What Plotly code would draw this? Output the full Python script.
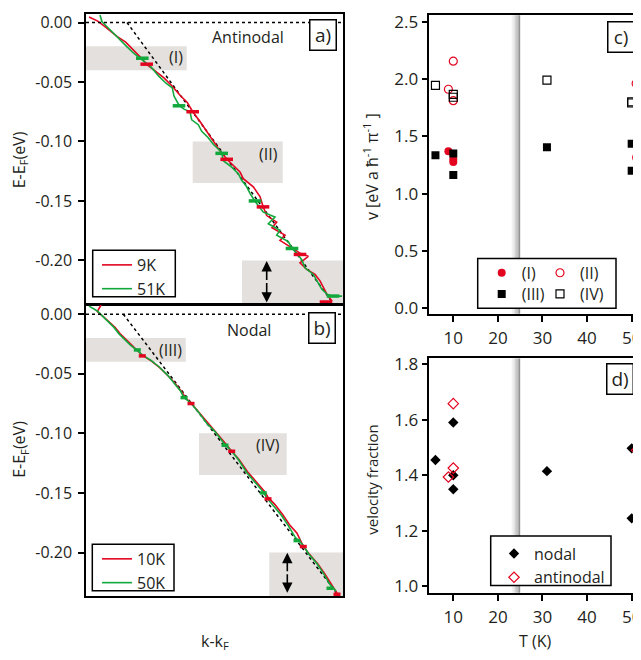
import plotly.graph_objects as go

# ---------------- data ----------------
# Panel a (antinodal): k-kF in 1e-3 1/A (arbitrary), E-EF in eV
a9_k = [-1, 7.3, 14, 20.7, 27.3, 35.7, 44, 51, 56.7, 65.7, 74, 82.3, 90.7, 97.3, 102.7, 110, 116.7,
        123.3, 130, 136.7, 143.3, 150, 153.3, 163.3, 170, 173, 176.7, 186.7, 182, 195, 190, 201.7,
        210, 218.3, 210, 216.7, 225, 230, 233.3, 236.7, 242]
a9_E = [0.0047, 0.0014, -0.0027, -0.0074, -0.0118, -0.0165, -0.0233, -0.0297, -0.0351, -0.0412,
        -0.0466, -0.0536, -0.0618, -0.0672, -0.0750, -0.0832, -0.0915, -0.0997, -0.1079, -0.1148,
        -0.1203, -0.1257, -0.1313, -0.1381, -0.1463, -0.1545, -0.1623, -0.1678, -0.1725, -0.1788,
        -0.1832, -0.1898, -0.1939, -0.1966, -0.2021, -0.2076, -0.2118, -0.2172, -0.2227, -0.2282,
        -0.2343]
a51_k = [10, 12, 16, 20.7, 29, 37.3, 44, 52.3, 60.7, 69, 75.7, 82.3, 84, 89, 94, 100, 101.7, 108.3,
         111.7, 118.3, 123.3, 131.7, 133.3, 141.7, 148.3, 151.7, 156.7, 160, 165, 173.3, 185, 178.3,
         190, 186.7, 198.3, 202, 206.7, 211.7, 215, 223.3, 226.7, 231.7, 236.7, 242, 252]
a51_E = [0.0063, 0.0006, -0.0027, -0.0068, -0.0137, -0.0206, -0.0260, -0.0316, -0.0371, -0.0453,
         -0.0508, -0.0549, -0.0618, -0.0695, -0.0728, -0.0750, -0.0818, -0.0859, -0.0915, -0.0969,
         -0.1024, -0.1093, -0.1162, -0.1216, -0.1271, -0.1327, -0.1381, -0.1436, -0.1502, -0.1595,
         -0.1636, -0.1692, -0.1747, -0.1788, -0.1842, -0.1898, -0.1939, -0.1994, -0.2062, -0.2118,
         -0.2172, -0.2241, -0.2282, -0.2301, -0.2301]
a9_mk_k = [56.7, 102.7, 136.7, 173, 210, 236]
a9_mk_E = [-0.035, -0.075, -0.115, -0.155, -0.195, -0.235]
a51_mk_k = [52.3, 89, 131.7, 165, 202, 243]
a51_mk_E = [-0.030, -0.070, -0.110, -0.150, -0.190, -0.230]
a_bare_k = [37, 243]
a_bare_E = [0.0, -0.236]

# Panel b (nodal)
b10_k = [11, 7.3, 13, 18, 25, 30, 37, 42, 48, 52.3, 61.5, 70, 78, 85, 91.5, 96, 101, 109, 117.5,
         125.5, 134, 141.7, 149, 157.5, 166, 174.5, 178, 185, 193, 199.5, 207, 213.3, 219, 227.5,
         234.5, 241, 247]
b10_E = [0.0077, 0.0021, -0.0018, -0.0055, -0.0111, -0.0163, -0.0216, -0.0262, -0.0311, -0.0344,
         -0.0394, -0.0451, -0.0517, -0.0579, -0.0649, -0.0707, -0.0746, -0.0823, -0.0913, -0.0983,
         -0.1070, -0.1150, -0.1219, -0.1322, -0.1404, -0.1487, -0.1536, -0.1598, -0.1685, -0.1767,
         -0.1837, -0.1949, -0.2011, -0.2093, -0.2176, -0.2266, -0.2341]
b50_k = [-1, 7.3, 12.3, 17.3, 24, 29, 35.7, 40.7, 47.3, 52.3, 60.7, 69, 77.3, 84, 90.7, 94, 100.7,
         108.3, 116.7, 125, 135, 141.7, 148.3, 156.7, 165, 173.3, 176.7, 183.3, 191.7, 198.3, 205,
         213.3, 218.3, 226.7, 233.3, 240, 246]
b50_E = [0.0068, 0.0027, -0.0014, -0.0056, -0.0111, -0.0165, -0.0220, -0.0262, -0.0303, -0.0344,
         -0.0385, -0.0441, -0.0509, -0.0578, -0.0647, -0.0701, -0.0743, -0.0820, -0.0916, -0.0985,
         -0.1095, -0.1150, -0.1219, -0.1328, -0.1411, -0.1493, -0.1540, -0.1609, -0.1691, -0.1774,
         -0.1870, -0.1939, -0.2008, -0.2091, -0.2173, -0.2269, -0.2324]
b10_mk_k = [52.3, 101, 141.7, 178, 213.3, 247]
b10_mk_E = [-0.035, -0.075, -0.115, -0.155, -0.195, -0.235]
b50_mk_k = [47.3, 94, 135, 173.3, 207, 240]
b50_mk_E = [-0.030, -0.070, -0.110, -0.150, -0.190, -0.230]
b_bare_k = [33.3, 246.7]
b_bare_E = [0.0, -0.234]

# Panel c: velocities vs temperature
T_I = [8.9, 10, 10, 51]
v_I = [1.37, 1.30, 1.275, 1.315]
T_II = [8.9, 10, 10, 51]
v_II = [1.91, 2.155, 1.81, 1.96]
T_III = [6, 10, 10, 31, 50, 50]
v_III = [1.335, 1.35, 1.163, 1.405, 1.435, 1.20]
T_IV = [6, 10, 10, 31, 50, 50]
v_IV = [1.943, 1.865, 1.84, 1.99, 1.80, 1.79]

# Panel d: velocity fractions
T_nod = [6, 10, 10, 10, 31, 50, 50]
f_nod = [1.455, 1.59, 1.40, 1.35, 1.415, 1.497, 1.245]
T_anti = [8.9, 10, 10, 51.1]
f_anti = [1.394, 1.658, 1.426, 1.49]

E_ticks = [0.0, -0.05, -0.10, -0.15, -0.20]
E_ticktext = ["0.00", "-0.05", "-0.10", "-0.15", "-0.20"]
v_ticks = [0.0, 0.5, 1.0, 1.5, 2.0, 2.5]
v_ticktext = ["0.0", "0.5", "1.0", "1.5", "2.0", "2.5"]
f_ticks = [1.0, 1.2, 1.4, 1.6, 1.8]
f_ticktext = ["1.0", "1.2", "1.4", "1.6", "1.8"]
T_ticks = [10, 20, 30, 40, 50]

# ---------------- style / layout ----------------
# the page body has an 8px margin, so the figure is sized to end at the window edge
OFF = 8
FW, FH = 641 - OFF, 660 - OFF
FONT = "Open Sans"
RED = "#e3051f"
GREEN = "#12a83c"
TXT = "#231f20"
BOXGRAY = "#e3e0dd"


def px(x):
    return min(1.0, max(0.0, (x - OFF) / FW))


def py(y):
    return min(1.0, max(0.0, 1 - (y - OFF) / FH))


fig = go.Figure()

# ---- panel a ----
fig.add_trace(go.Scatter(x=a_bare_k, y=a_bare_E, mode="lines", line=dict(color="black", width=1.5, dash="dot"),
                         showlegend=False, xaxis="x", yaxis="y", hoverinfo="skip"))
fig.add_trace(go.Scatter(x=a9_k, y=a9_E, mode="lines", name="9K", line=dict(color=RED, width=1.6),
                         legend="legend3", xaxis="x", yaxis="y"))
fig.add_trace(go.Scatter(x=a51_k, y=a51_E, mode="lines", name="51K", line=dict(color=GREEN, width=1.6),
                         legend="legend3", xaxis="x", yaxis="y"))
fig.add_trace(go.Scatter(x=a9_mk_k, y=a9_mk_E, mode="markers", showlegend=False,
                         marker=dict(symbol="line-ew", size=9, line=dict(color=RED, width=3.5)),
                         xaxis="x", yaxis="y"))
fig.add_trace(go.Scatter(x=a51_mk_k, y=a51_mk_E, mode="markers", showlegend=False,
                         marker=dict(symbol="line-ew", size=9, line=dict(color=GREEN, width=3.5)),
                         xaxis="x", yaxis="y"))

# ---- panel b ----
fig.add_trace(go.Scatter(x=b_bare_k, y=b_bare_E, mode="lines", line=dict(color="black", width=1.5, dash="dot"),
                         showlegend=False, xaxis="x2", yaxis="y2", hoverinfo="skip"))
fig.add_trace(go.Scatter(x=b10_k, y=b10_E, mode="lines", name="10K", line=dict(color=RED, width=1.6),
                         legend="legend4", xaxis="x2", yaxis="y2"))
fig.add_trace(go.Scatter(x=b50_k, y=b50_E, mode="lines", name="50K", line=dict(color=GREEN, width=1.6),
                         legend="legend4", xaxis="x2", yaxis="y2"))
fig.add_trace(go.Scatter(x=b10_mk_k, y=b10_mk_E, mode="markers", showlegend=False,
                         marker=dict(symbol="line-ew", size=5, line=dict(color=RED, width=3.5)),
                         xaxis="x2", yaxis="y2"))
fig.add_trace(go.Scatter(x=b50_mk_k, y=b50_mk_E, mode="markers", showlegend=False,
                         marker=dict(symbol="line-ew", size=5, line=dict(color=GREEN, width=3.5)),
                         xaxis="x2", yaxis="y2"))

# ---- panel c ----
fig.add_trace(go.Scatter(x=T_I, y=v_I, mode="markers", name="(I)", legend="legend",
                         marker=dict(symbol="circle", size=8, color=RED), xaxis="x3", yaxis="y3"))
fig.add_trace(go.Scatter(x=T_II, y=v_II, mode="markers", name="(II)", legend="legend6",
                         marker=dict(symbol="circle-open", size=8, color=RED, line=dict(width=1.2)),
                         xaxis="x3", yaxis="y3"))
fig.add_trace(go.Scatter(x=T_III, y=v_III, mode="markers", name="(III)", legend="legend2",
                         marker=dict(symbol="square", size=8, color="black"), xaxis="x3", yaxis="y3"))
fig.add_trace(go.Scatter(x=T_IV, y=v_IV, mode="markers", name="(IV)", legend="legend7",
                         marker=dict(symbol="square-open", size=8, color="black", line=dict(width=1.2)),
                         xaxis="x3", yaxis="y3"))

# ---- panel d ----
fig.add_trace(go.Scatter(x=T_nod, y=f_nod, mode="markers", name="nodal", legend="legend5",
                         marker=dict(symbol="diamond", size=8, color="black"), xaxis="x4", yaxis="y4"))
fig.add_trace(go.Scatter(x=T_anti, y=f_anti, mode="markers", name="antinodal", legend="legend5",
                         marker=dict(symbol="diamond-open", size=8, color=RED, line=dict(width=1.2)),
                         xaxis="x4", yaxis="y4"))

axcommon = dict(showline=True, linecolor="black", linewidth=1.5, showgrid=False, zeroline=False,
                tickfont=dict(family=FONT, size=16, color=TXT), tickcolor="black", tickwidth=1.5)
rfont = dict(family=FONT, size=17, color=TXT)

shapes = []
annotations = []

# gray boxes
for y0, y1, x0, x1 in [(-0.04, -0.02, -4, 96.7), (-0.135, -0.10, 102.7, 192.7), (-0.24, -0.20, 152, 253)]:
    shapes.append(dict(type="rect", xref="x", yref="y", x0=x0, x1=x1, y0=y0, y1=y1,
                       fillcolor=BOXGRAY, line=dict(width=0), layer="below"))
for y0, y1, x0, x1 in [(-0.04, -0.02, -4, 95.7), (-0.135, -0.10, 109, 196.7), (-0.24, -0.20, 179.3, 253)]:
    shapes.append(dict(type="rect", xref="x2", yref="y2", x0=x0, x1=x1, y0=y0, y1=y1,
                       fillcolor=BOXGRAY, line=dict(width=0), layer="below"))
# zero-energy dotted lines
for xr, yr in [("x", "y"), ("x2", "y2")]:
    shapes.append(dict(type="line", xref=xr + " domain", yref=yr, x0=0, x1=1, y0=0, y1=0,
                       line=dict(color="black", width=1.5, dash="dot")))

# Tc band in c and d (gradient strips)
band_edges = [23.1, 23.45, 23.8, 24.1, 24.4, 24.7, 25.0]
band_cols = ["#f2f2f2", "#e4e4e4", "#d2d2d2", "#bebebe", "#a9a9a9", "#939393"]
for xr, yr in [("x3", "y3"), ("x4", "y4")]:
    for i, c in enumerate(band_cols):
        shapes.append(dict(type="rect", xref=xr, yref=yr + " domain", x0=band_edges[i], x1=band_edges[i + 1],
                           y0=0, y1=1, fillcolor=c, line=dict(width=0), layer="below"))
# legend frames
for (x0, y0, x1, y1) in [(477.7, 256.7, 616, 307.3), (92.7, 248.3, 175.3, 295.7), (92.3, 547.3, 174, 594.7),
                         (490.7, 539, 611, 589.3)]:
    shapes.append(dict(type="rect", xref="paper", yref="paper", x0=px(x0), x1=px(x1), y0=py(y1), y1=py(y0),
                       fillcolor="white", line=dict(color="black", width=1.5), layer="below"))

# double arrows
for xr, yr, k, yc, yt, yb in [("x", "y", 176.7, -0.2178, -0.2005, -0.2355),
                              ("x2", "y2", 197.3, -0.2170, -0.2002, -0.2338)]:
    for yh in (yt, yb):
        annotations.append(dict(xref=xr, yref=yr, axref=xr, ayref=yr, x=k, y=yh, ax=k, ay=yc, text="",
                                showarrow=True, arrowhead=2, arrowsize=1.3, arrowwidth=1.6, arrowcolor="black"))


def txt(x, y, s, size=16, **kw):
    d = dict(xref="paper", yref="paper", x=px(x), y=py(y), text=s, showarrow=False,
             font=dict(family=FONT, size=size, color=TXT), xanchor="center", yanchor="middle")
    d.update(kw)
    annotations.append(d)


txt(176, 51.7, "(I)")
txt(268, 150.7, "(II)")
txt(171, 349.3, "(III)")
txt(268.3, 446.7, "(IV)")
txt(248.3, 31, "Antinodal")
txt(249.3, 329.3, "Nodal")
for (cx, cy, s) in [(323.2, 29.5, "a)"), (322.3, 327, "b)"), (620.8, 31.2, "c)"), (620, 379.5, "d)")]:
    txt(cx, cy, s, size=19, bordercolor="black", borderwidth=1.5, bgcolor="white",
        width=25, height=29, borderpad=0)
txt(19.5, 156.3, "E-E<sub>F</sub>(eV)", size=16, textangle=-90)
txt(19.5, 450.8, "E-E<sub>F</sub>(eV)", size=16, textangle=-90)
txt(215, 646, "k-k<sub>F</sub>", size=16)
txt(371.7, 163, "v [eV a ħ<sup>-1</sup> π<sup>-1</sup> ]", size=16, textangle=-90)
txt(371.7, 481, "velocity fraction", size=15, textangle=-90)
txt(535, 646, "T (K)", size=16)

leg_font = dict(family=FONT, size=16, color=TXT)
legbase = dict(xanchor="left", yanchor="top", bgcolor="rgba(0,0,0,0)", borderwidth=0, font=leg_font,
               itemwidth=30, tracegroupgap=0)
fig.update_layout(
    width=FW, height=FH, margin=dict(l=0, r=0, t=0, b=0),
    paper_bgcolor="white", plot_bgcolor="white",
    showlegend=True,
    xaxis=dict(axcommon, domain=[px(86), px(343)], range=[-4, 253], showticklabels=False, ticks="",
               mirror=True, anchor="y"),
    yaxis=dict(axcommon, domain=[py(303), py(7)], range=[-0.2367, 0.0072], tickvals=E_ticks,
               ticktext=E_ticktext, ticks="outside", ticklen=6, mirror=True, anchor="x", ticklabelstandoff=3),
    xaxis2=dict(axcommon, domain=[px(86), px(343)], range=[-4, 253], showticklabels=False, ticks="",
                mirror=True, anchor="y2"),
    yaxis2=dict(axcommon, domain=[py(600), py(304)], range=[-0.2365, 0.0077], tickvals=E_ticks,
                ticktext=E_ticktext, ticks="outside", ticklen=6, mirror=True, anchor="x2", ticklabelstandoff=3),
    xaxis3=dict(axcommon, domain=[px(429.3), 1], range=[4.62, 52.09], tickvals=T_ticks, ticks="outside",
                ticklen=6, mirror=True, anchor="y3", tickfont=rfont, ticklabeloverflow="allow",
                ticklabelstandoff=2),
    yaxis3=dict(axcommon, domain=[py(313), py(9.3)], range=[-0.049, 2.555], tickvals=v_ticks,
                ticktext=v_ticktext, ticks="outside", ticklen=6, anchor="x3", tickfont=rfont),
    xaxis4=dict(axcommon, domain=[px(429.3), 1], range=[4.62, 52.09], tickvals=T_ticks, ticks="outside",
                ticklen=6, mirror=True, anchor="y4", tickfont=rfont, ticklabeloverflow="allow",
                ticklabelstandoff=2),
    yaxis4=dict(axcommon, domain=[py(596.7), py(358.3)], range=[0.977, 1.821], tickvals=f_ticks,
                ticktext=f_ticktext, ticks="outside", ticklen=6, anchor="x4", tickfont=rfont),
    legend=dict(legbase, x=px(481.7), y=py(254)),
    legend6=dict(legbase, x=px(540), y=py(254)),
    legend2=dict(legbase, x=px(481.7), y=py(275.5)),
    legend7=dict(legbase, x=px(540), y=py(275.5)),
    legend3=dict(legbase, x=px(97), y=py(246)),
    legend4=dict(legbase, x=px(97), y=py(545)),
    legend5=dict(legbase, x=px(494), y=py(539.5)),
    shapes=shapes, annotations=annotations,
)

fig.write_html("out.html")
